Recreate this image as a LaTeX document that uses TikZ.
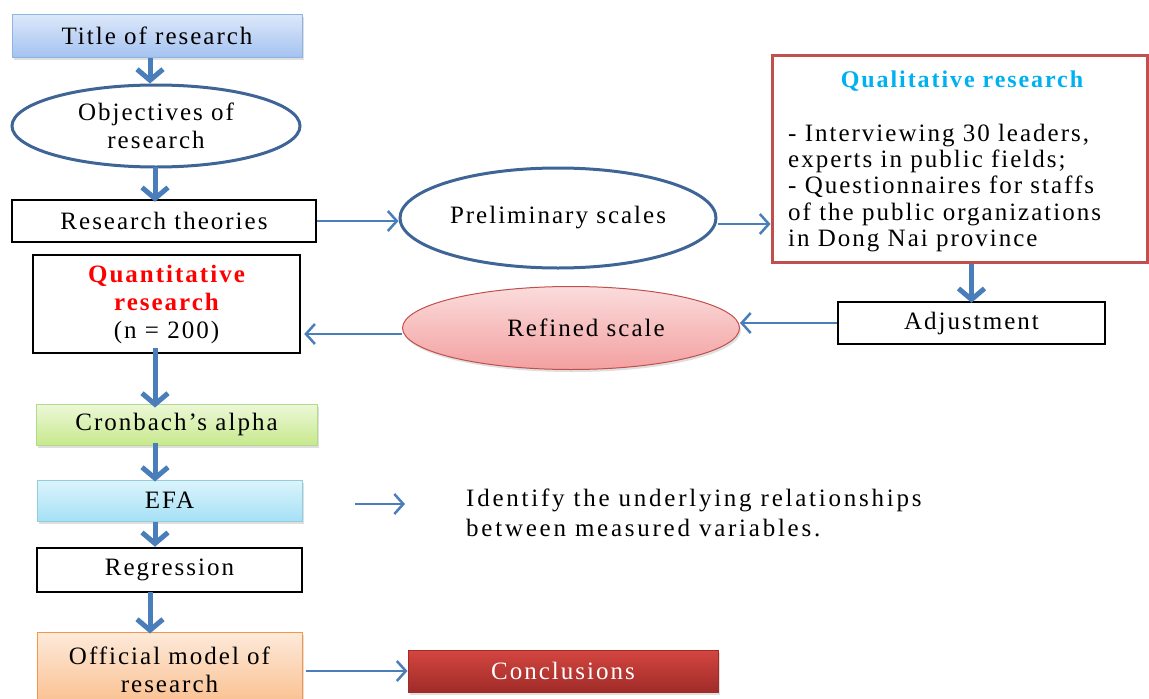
\documentclass[tikz,border=0pt]{standalone}
\usepackage{fontspec}
\setmainfont{Liberation Serif}[LetterSpace=8]
\usetikzlibrary{arrows.meta,shapes.geometric,calc,shadows}
\definecolor{arrblue}{HTML}{4A7EBB}
\definecolor{ellblue}{HTML}{3F6597}
\definecolor{qred}{HTML}{C0504D}
\definecolor{qcyan}{HTML}{00B0F0}
\definecolor{titlebd}{HTML}{8EB4E3}
\definecolor{titletop}{HTML}{DCE8FA}
\definecolor{titlebot}{HTML}{A4C2F0}
\definecolor{reftop}{HTML}{FBDCDC}
\definecolor{refbot}{HTML}{F3A0A0}
\definecolor{cronbd}{HTML}{B5D98B}
\definecolor{crontop}{HTML}{ECF8D8}
\definecolor{cronbot}{HTML}{C7E98D}
\definecolor{efabd}{HTML}{93CDDD}
\definecolor{efatop}{HTML}{DCF4FC}
\definecolor{efabot}{HTML}{A5E1F6}
\definecolor{offbd}{HTML}{F79646}
\definecolor{offtop}{HTML}{FDEADA}
\definecolor{offbot}{HTML}{FABE8C}
\definecolor{concbd}{HTML}{A02B28}
\definecolor{conctop}{HTML}{D44640}
\definecolor{concbot}{HTML}{A02B28}
\tikzset{
  base/.style={font=\fontsize{25}{28}\selectfont, align=center, inner sep=0pt},
  plainbox/.style={base, rectangle, draw=black, line width=2.5pt, fill=white},
  ellbox/.style={base, ellipse, draw=ellblue, line width=3pt, fill=white},
  shade/.style={drop shadow={shadow xshift=1.5pt, shadow yshift=-2.5pt, opacity=0.25}},
  bigarrow/.style={draw=arrblue, line width=5pt, -{Straight Barb[length=11pt,width=26pt]}},
  thinarrow/.style={draw=arrblue, line width=2.5pt, -{Straight Barb[length=9pt,width=20pt]}},
}
\begin{document}
\begin{tikzpicture}[x=1pt,y=-1pt]
\useasboundingbox (0,0) rectangle (1149,699);
\coordinate (col) at (155,0);
\coordinate (colb) at (150,0);
% nodes
\node[base, rectangle, shade, draw=titlebd, line width=1pt, top color=titletop, bottom color=titlebot, minimum width=290pt, minimum height=43pt] (title) at (157,36) {Title of research};
\node[ellbox, minimum width=288pt, minimum height=82pt] (obj) at (156,126) {Objectives of\\research};
\node[plainbox, minimum width=304pt, minimum height=42pt] (theo) at (164,221) {Research theories};
\node[ellbox, minimum width=316pt, minimum height=100pt] (prel) at (558,218) {Preliminary scales};
\node[base, rectangle, draw=qred, line width=3pt, minimum width=375pt, minimum height=207pt] (qual) at (959.5,158.5) {};
\node[base, text=qcyan, font=\fontsize{24}{28}\selectfont\bfseries] (qualt) at (962,81) {Qualitative research};
\node[base, align=left, anchor=west, font=\fontsize{25}{26.3}\selectfont] (qualtx) at (788,188) {- Interviewing 30 leaders,\\experts in public fields;\\- Questionnaires for staffs\\of the public organizations\\in Dong Nai province};
\node[plainbox, minimum width=267pt, minimum height=42pt] (adj) at (971.5,323) {Adjustment};
\node[base, ellipse, shade, draw=qred, line width=1pt, top color=reftop, bottom color=refbot, minimum width=337pt, minimum height=83pt] (ref) at (571,328) {\hspace*{30pt}Refined scale};
\node[plainbox, minimum width=267pt, minimum height=98pt] (quant) at (166.5,304) {\textcolor{red}{\bfseries Quantitative}\\\textcolor{red}{\bfseries research}\\(n = 200)};
\node[base, rectangle, shade, draw=cronbd, line width=1pt, top color=crontop, bottom color=cronbot, minimum width=281pt, minimum height=41pt] (cron) at (176.5,424.5) {Cronbach’s alpha};
\node[base, rectangle, shade, draw=efabd, line width=1pt, top color=efatop, bottom color=efabot, minimum width=265pt, minimum height=41pt] (efa) at (169.5,500.5) {EFA};
\node[base, align=left, anchor=west, font=\fontsize{25}{30}\selectfont\addfontfeatures{LetterSpace=11}] (ident) at (466,513) {Identify the underlying relationships\\between measured variables.};
\node[plainbox, minimum width=265pt, minimum height=44pt] (reg) at (169.5,570) {Regression};
\node[base, rectangle, shade, draw=offbd, line width=1pt, top color=offtop, bottom color=offbot, minimum width=265pt, minimum height=76pt] (off) at (169.5,670) {Official model of\\research};
\node[base, rectangle, shade, draw=concbd, line width=1pt, top color=conctop, bottom color=concbot, text=white, minimum width=310pt, minimum height=42pt] (conc) at (563,671) {Conclusions};
\coordinate (e1) at (355,504);
\coordinate (e2) at (405,504);
% connectors
\draw[bigarrow] (title.south -| colb) -- (obj.north -| colb);
\draw[bigarrow] ([yshift=2pt]obj.south -| col) -- ([yshift=-3pt]theo.north -| col);
\draw[thinarrow] (theo.east) -- (theo.east -| prel.west);
\draw[thinarrow] ([yshift=-6pt]prel.east) -- ([yshift=-6pt]prel.east -| qual.west);
\draw[bigarrow] (adj.north |- qual.south) -- ([yshift=-2pt]adj.north);
\draw[thinarrow] (adj.west) -- (adj.west -| ref.east);
\draw[thinarrow] ([yshift=-6pt]ref.west) -- ([yshift=-6pt, xshift=3pt]ref.west -| quant.east);
\draw[bigarrow] ([yshift=6pt]quant.south -| col) -- ([yshift=-4pt]cron.north -| col);
\draw[bigarrow] ([yshift=3pt]cron.south -| col) -- ([yshift=-2pt]efa.north -| col);
\draw[bigarrow] (efa.south -| col) -- (reg.north -| col);
\draw[bigarrow] ([yshift=1pt]reg.south -| colb) -- ([yshift=-2pt]off.north -| colb);
\draw[thinarrow] (e1) -- (e2);
\draw[thinarrow] ([xshift=3pt]off.east |- conc.west) -- (conc.west);
\end{tikzpicture}
\end{document}
